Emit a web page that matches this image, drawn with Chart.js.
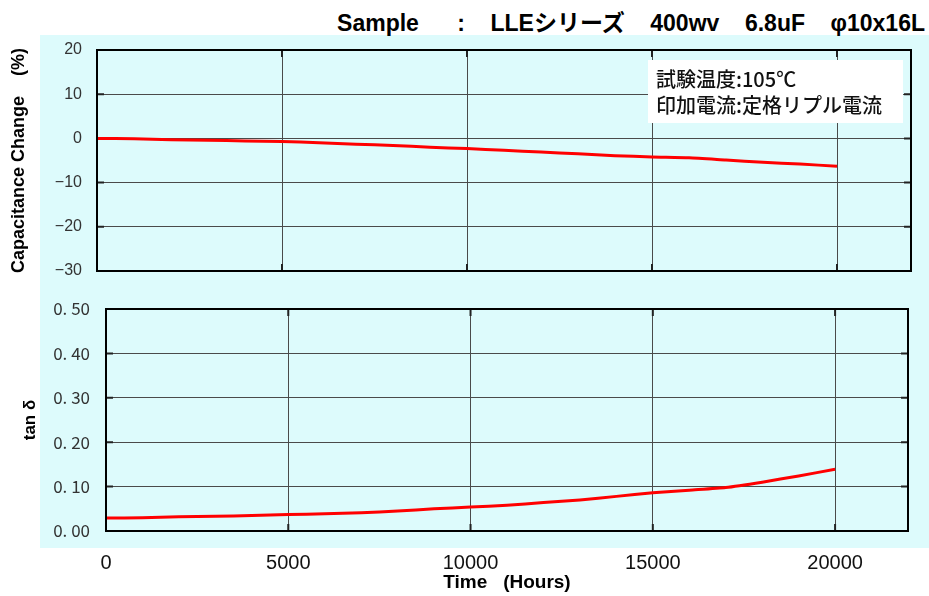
<!DOCTYPE html>
<html>
<head>
<meta charset="utf-8">
<script src="https://cdn.jsdelivr.net/npm/chart.js@4/dist/chart.umd.min.js"></script>
<style>
  body { margin: 0; background: #fff; }
  #wrap { position: relative; width: 929px; height: 596px; overflow: hidden; }
  #bg { position: absolute; left: 40px; top: 35px; width: 889px; height: 513px; background: #ddfbfc; }
  #title { position: absolute; right: 4px; top: 4px; white-space: pre; font: bold 23px "Liberation Sans", "Noto Sans CJK JP", sans-serif; color: #000; }
  canvas { position: absolute; left: 0; }
  #capChart { top: 0; }
  #tanChart { top: 290px; }
</style>
</head>
<body>
<div id="wrap">
  <div id="bg"></div>
  <div id="title">Sample      :    LLEシリーズ    400wv    6.8uF    φ10x16L</div>
  <canvas id="capChart" width="929" height="290"></canvas>
  <canvas id="tanChart" width="929" height="306"></canvas>
</div>
<script>
// hours of test
const hours = [0, 1000, 2000, 3000, 4000, 5000, 6000, 7000, 8000, 9000, 10000,
  11000, 12000, 13000, 14000, 15000, 16000, 17000, 18000, 19000, 20000];
// capacitance change (%)
const capChange = [0, -0.1, -0.3, -0.4, -0.6, -0.7, -1.0, -1.3, -1.6, -2.0, -2.3,
  -2.7, -3.1, -3.5, -3.9, -4.2, -4.4, -4.9, -5.4, -5.8, -6.3];
// tan delta
const tanDelta = [0.029, 0.030, 0.032, 0.033, 0.035, 0.037, 0.039, 0.041, 0.045, 0.050, 0.054,
  0.058, 0.064, 0.070, 0.078, 0.086, 0.092, 0.098, 0.110, 0.124, 0.139];
const xTicks = [0, 5000, 10000, 15000, 20000];
const noteLines = ["試験温度:105℃", "印加電流:定格リプル電流"];

const gridColor = "#4a4a4a";

// frame, inner tick stubs and the note box
const framePlugin = {
  id: "frame",
  beforeDatasetsDraw(chart, args, opts) {
    const ctx = chart.ctx;
    const a = chart.chartArea;
    if (opts.note) {
      ctx.save();
      ctx.fillStyle = "#fff";
      ctx.fillRect(648, 60, 255, 63);
      ctx.fillStyle = "#111";
      ctx.font = "500 20px 'Noto Sans CJK JP'";
      ctx.textBaseline = "middle";
      ctx.fillText(noteLines[0], 656, 79);
      ctx.fillText(noteLines[1], 656, 105);
      ctx.restore();
    }
    // small tick stubs inside the frame
    ctx.save();
    ctx.strokeStyle = "#222";
    ctx.lineWidth = 2;
    const xs = chart.scales.x, ys = chart.scales.y;
    xs.ticks.forEach(t => {
      const px = xs.getPixelForValue(t.value);
      ctx.beginPath();
      ctx.moveTo(px, a.top); ctx.lineTo(px, a.top + 7);
      ctx.moveTo(px, a.bottom); ctx.lineTo(px, a.bottom - 7);
      ctx.stroke();
    });
    ys.ticks.forEach(t => {
      const py = ys.getPixelForValue(t.value);
      ctx.beginPath();
      ctx.moveTo(a.left, py); ctx.lineTo(a.left + 7, py);
      ctx.moveTo(a.right, py); ctx.lineTo(a.right - 7, py);
      ctx.stroke();
    });
    ctx.restore();
  },
  afterDatasetsDraw(chart) {
    const ctx = chart.ctx;
    const a = chart.chartArea;
    ctx.save();
    ctx.strokeStyle = "#000";
    ctx.lineWidth = 2;
    ctx.strokeRect(a.left, a.top, a.right - a.left, a.bottom - a.top);
    ctx.restore();
  }
};

function makeChart(id, values, cfg) {
  return new Chart(document.getElementById(id), {
    type: "line",
    data: {
      datasets: [{
        data: hours.map((h, i) => ({ x: h, y: values[i] })),
        borderColor: "#ff0000",
        borderWidth: 3,
        pointRadius: 0,
        tension: 0.2,
        fill: false
      }]
    },
    options: {
      responsive: false,
      animation: false,
      layout: { padding: cfg.padding },
      plugins: {
        legend: { display: false },
        tooltip: { enabled: false },
        frame: { note: cfg.note }
      },
      scales: {
        x: {
          type: "linear",
          min: 0,
          max: 22000,
          afterBuildTicks: s => { s.ticks = xTicks.map(v => ({ value: v })); },
          afterFit: s => { s.height = cfg.xHeight; },
          grid: { color: gridColor, lineWidth: 1, drawTicks: cfg.showX, tickLength: 17, tickColor: "rgba(0,0,0,0)" },
          border: { display: false },
          ticks: {
            display: cfg.showX,
            padding: 3,
            color: "#111",
            font: { family: "Liberation Sans", size: 20 },
            maxRotation: 0,
            callback: v => String(v)
          },
          title: {
            display: cfg.showX,
            text: "Time   (Hours)",
            color: "#000",
            font: { family: "Liberation Sans", size: 19, weight: "bold" },
            padding: { top: 0, bottom: 2 }
          }
        },
        y: {
          min: cfg.yMin,
          max: cfg.yMax,
          afterFit: s => { s.width = cfg.yWidth; },
          grid: { color: gridColor, lineWidth: 1, drawTicks: true, tickLength: cfg.tickLen, tickColor: "rgba(0,0,0,0)" },
          border: { display: false },
          ticks: {
            stepSize: cfg.yStep,
            padding: 3,
            color: "#333",
            font: cfg.tickFont,
            callback: cfg.fmt
          },
          title: {
            display: true,
            text: cfg.yTitle,
            color: "#000",
            font: { family: "Liberation Sans", size: cfg.titleSize, weight: "bold" },
            padding: { top: cfg.titlePad, bottom: 0 }
          }
        }
      }
    },
    plugins: [framePlugin]
  });
}

makeChart("capChart", capChange, {
  padding: { top: 50, right: 18, bottom: 0, left: 0 },
  xHeight: 19,
  showX: false,
  yMin: -30, yMax: 20, yStep: 10,
  yWidth: 97,
  tickLen: 12,
  tickFont: { family: "Liberation Sans", size: 16 },
  fmt: v => (v < 0 ? "\u2212" + Math.abs(v) : String(v)),
  yTitle: "Capacitance Change    (%)",
  titleSize: 18,
  titlePad: 8,
  note: true
});

makeChart("tanChart", tanDelta, {
  padding: { top: 19, right: 21, bottom: 0, left: 0 },
  xHeight: 65,
  showX: true,
  yMin: 0, yMax: 0.5, yStep: 0.1,
  yWidth: 106,
  tickLen: 13,
  tickFont: { family: "Noto Sans CJK JP", size: 17 },
  fmt: v => v.toFixed(2).replace(".", ". "),
  yTitle: "tan δ",
  titleSize: 17,
  titlePad: 20,
  note: false
});
</script>
</body>
</html>
